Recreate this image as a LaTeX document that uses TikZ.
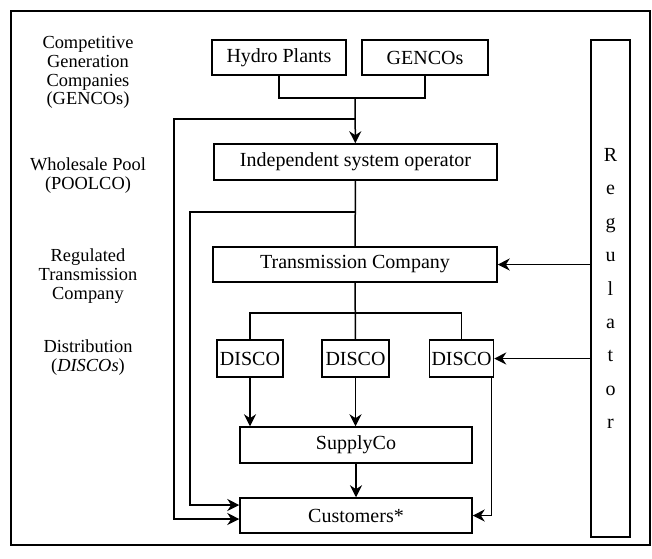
\documentclass[tikz,border=0pt]{standalone}
\usepackage{fontspec}
\setmainfont{Liberation Serif}
\usetikzlibrary{arrows.meta,positioning}

\begin{document}
\begin{tikzpicture}[x=0.5pt,y=-0.5pt,
  font=\fontsize{10}{12}\selectfont, line width=0.75pt,
  box/.style={draw,inner sep=1pt,minimum height=17.5pt},
  lbl/.style={align=center,font=\fontsize{9.2}{9.4}\selectfont},
  ar/.style={-{Stealth[length=6pt,width=6pt]}}]
\useasboundingbox (0,0) rectangle (652,558);
\draw (11,11) rectangle (650,545);
% side labels
\node[lbl] (lgen) at (88,72.5) {Competitive\\Generation\\Companies\\(GENCOs)};
\node[lbl] (lpool) at (88,175.5) {Wholesale Pool\\(POOLCO)};
\node[lbl] (ltr) at (88,276) {Regulated\\Transmission\\Company};
\node[lbl] (ldis) at (88,357.5) {Distribution\\(\textit{DISCOs})};
% boxes
\node[box,minimum width=67pt] (hydro) at (279,57.5) {Hydro Plants};
\node[box,minimum width=63pt] (gencos) at (425,57.5) {GENCOs};
\node[box,minimum width=141.5pt,minimum height=18pt] (iso) at (355.5,162) {Independent system operator};
\node[box,minimum width=142pt] (trans) at (355,264.5) {Transmission Company};
\node[box,minimum width=33pt,minimum height=18.5pt] (d1) at (250,358.5) {DISCO};
\node[box,minimum width=33.5pt,minimum height=18.5pt] (d2) at (355.5,358.5) {DISCO};
\node[box,minimum width=31.5pt,minimum height=18.5pt] (d3) at (461.5,358.5) {DISCO};
\node[box,minimum width=116pt,minimum height=18pt] (supply) at (356,445) {SupplyCo};
\node[box,minimum width=116pt] (cust) at (356,515.5) {Customers*};
\node[box,minimum width=19.5pt,minimum height=248.5pt,align=center,
      font=\fontsize{10}{16.7}\selectfont,text depth=-5pt] (reg) at (610.5,288.5)
      {R\\e\\g\\u\\l\\a\\t\\o\\r};
% connectors
\coordinate (gb) at (355,98);
\coordinate (a1) at (174,119);
\coordinate (a2) at (190,212);
\coordinate (db) at (355,313);
\draw (hydro.south) |- (gb) -| (gencos.south);
\draw[ar] (gb) -- (iso);
\draw[ar] (gb |- a1) -- (a1) |- ([yshift=-1.75pt]cust.west);
\draw[ar] (gb |- a2) -- (a2) |- ([yshift=5.25pt]cust.west);
\draw (iso) -- (trans);
\draw (trans) -- (d2);
\draw (d1.north) |- (db) -| (d3.north);
\draw[ar] (d1) -- (d1 |- supply.north);
\draw[ar] (d2) -- (d2 |- supply.north);
\draw[ar] (supply) -- (cust);
\draw[ar] ([xshift=-1.5pt]d3.south east) |- (cust.east);
\draw[ar] (reg.west |- trans.east) -- (trans.east);
\draw[ar] (reg.west |- d3.east) -- (d3.east);
\end{tikzpicture}
\end{document}
